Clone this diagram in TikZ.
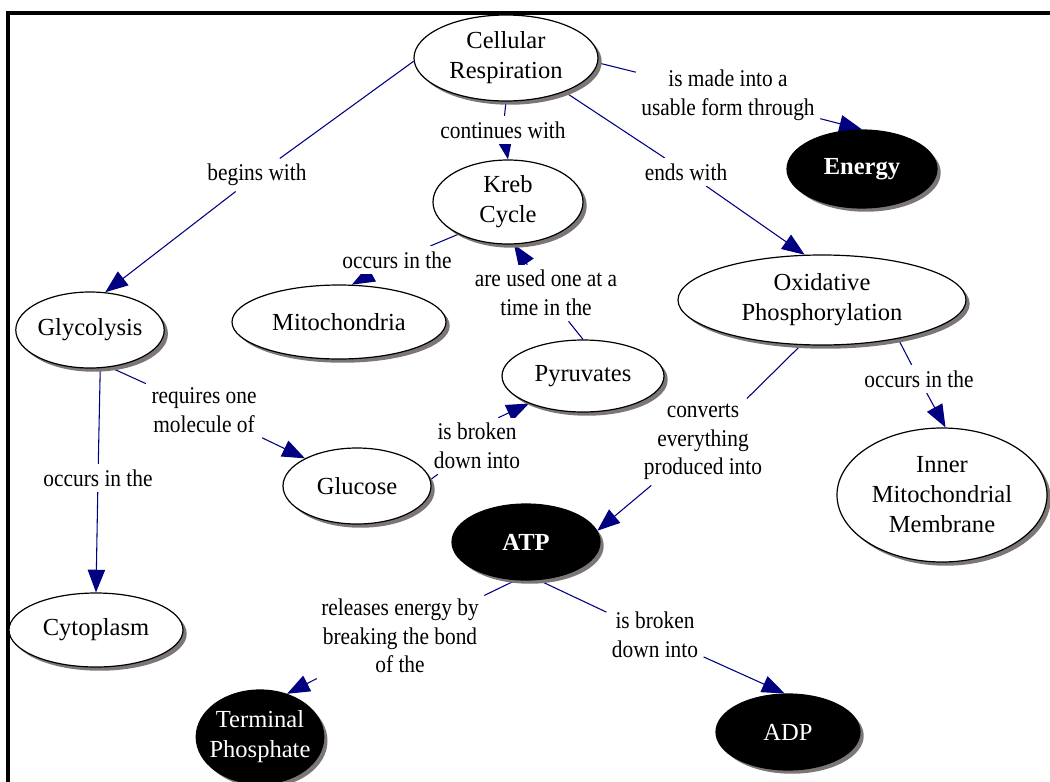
\documentclass[tikz,border=0pt]{standalone}
\usepackage{fontspec}
\setmainfont{Liberation Serif}
\newfontfamily\condfont[FakeStretch=0.89]{Liberation Serif}
\usetikzlibrary{shapes.geometric,shadows,backgrounds,arrows.meta}

\definecolor{linknavy}{RGB}{0,0,128}
\definecolor{shadowgray}{RGB}{125,118,118}

\tikzset{
  concept/.style={ellipse, draw=black, line width=0.9pt, fill=white,
    inner sep=0pt, align=center, font=\fontsize{18.4}{22.5}\selectfont,
    drop shadow={shadow xshift=2.8pt, shadow yshift=-2.8pt,
      fill=shadowgray, opacity=1}},
  keyconcept/.style={concept, fill=black, text=white},
  phrase/.style={fill=white, inner sep=4pt, align=center,
    font=\condfont\fontsize{18}{21.4}\selectfont},
  link/.style={draw=linknavy, line width=0.8pt},
  linkto/.style={link, -{Triangle[length=17pt,width=13pt]}},
}

\begin{document}
\begin{tikzpicture}[x=0.75pt, y=-0.75pt]
\useasboundingbox (0,0) rectangle (1050,782);

% page frame
\draw[line width=2.6pt, line join=miter] (8,790) -- (8,13) -- (1060,13);

% linking phrases (set first so concept shadows lie over them)
\node[phrase] (pBegins) at (257,175) {begins with};
\node[phrase] (pContinues) at (503,130) {continues with};
\node[phrase] (pEnds) at (686,172) {ends with};
\node[phrase] (pUsable) at (728,95) {is made into a\\usable form through};
\node[phrase] (pKrebIn) at (397,260) {occurs in the};
\node[phrase] (pUsed) at (546,293) {are used one at a\\time in the};
\node[phrase] (pRequires) at (204,410) {requires one\\molecule of};
\node[phrase] (pGlyIn) at (98,478) {occurs in the};
\node[phrase] (pGlcBroken) at (477,446) {is broken\\down into};
\node[phrase] (pConverts) at (703,442) {converts\\everything\\produced into};
\node[phrase] (pOxIn) at (919,379) {occurs in the};
\node[phrase] (pReleases) at (400,636) {releases energy by\\breaking the bond\\of the};
\node[phrase] (pAtpBroken) at (655,635) {is broken\\down into};

% concepts
\node[concept, minimum width=138pt, minimum height=64.5pt] (resp) at (506,58) {Cellular\\Respiration};
\node[keyconcept, minimum width=112.5pt, minimum height=58.5pt,
      font=\bfseries\fontsize{18.4}{22.5}\selectfont] (energy) at (862,169) {Energy};
\node[concept, minimum width=112.5pt, minimum height=63pt] (kreb) at (508,202) {Kreb\\Cycle};
\node[concept, minimum width=109.5pt, minimum height=57pt] (gly) at (90,330) {Glycolysis};
\node[concept, minimum width=160.5pt, minimum height=55.5pt] (mito) at (339,322) {Mitochondria};
\node[concept, minimum width=216pt, minimum height=67.5pt] (oxphos) at (822,300) {Oxidative\\Phosphorylation};
\node[concept, minimum width=121.5pt, minimum height=54pt] (pyr) at (583,376) {Pyruvates};
\node[concept, minimum width=111pt, minimum height=57pt] (glc) at (357,486) {Glucose};
\node[keyconcept, minimum width=111pt, minimum height=57pt,
      font=\bfseries\fontsize{18.4}{22.5}\selectfont] (atp) at (526,542) {ATP};
\node[concept, minimum width=157.5pt, minimum height=100.5pt] (inner) at (942,495) {Inner\\Mitochondrial\\Membrane};
\node[concept, minimum width=130.5pt, minimum height=55.5pt] (cyto) at (96,630) {Cytoplasm};
\node[keyconcept, minimum width=94.5pt, minimum height=70.5pt, inner xsep=-4pt] (term) at (260,737) {Terminal\\Phosphate};
\node[keyconcept, minimum width=108pt, minimum height=57pt] (adp) at (788,732) {ADP};

% links
\begin{scope}[on background layer]
  \draw[link] (resp.182) -- (pBegins);
  \draw[linkto] (pBegins) -- (gly.68);

  \draw[link] (resp.south) -- (pContinues);
  \draw[linkto] (pContinues) -- (kreb.north);

  \draw[link] (resp.-30) -- (pEnds);
  \draw[linkto] (pEnds) -- (oxphos.111);

  \draw[link] (resp.-3) -- (pUsable);
  \draw[linkto] (pUsable) -- (energy.north);

  \draw[link] (kreb.213) -- (pKrebIn);
  \draw[linkto] (pKrebIn) -- (mito.71);

  \draw[link] (pyr.north) -- (pUsed);
  \draw[linkto] (pUsed) -- (kreb.-82);

  \draw[link] (gly.-62) -- (pRequires);
  \draw[linkto] (pRequires) -- (glc.152);

  \draw[link] (gly.-75) -- (pGlyIn);
  \draw[linkto] (pGlyIn) -- (cyto.north);

  \draw[link] (glc.5) -- (pGlcBroken);
  \draw[linkto] ([xshift=16pt]pGlcBroken.north) -- (pyr.207);

  \draw[link] (oxphos.245) -- (pConverts);
  \draw[linkto] (pConverts) -- (atp.9);

  \draw[link] (oxphos.-27) -- (pOxIn);
  \draw[linkto] (pOxIn) -- (inner.87);

  \draw[link] (atp.255) -- (pReleases);
  \draw[linkto] (pReleases) -- (term.58);

  \draw[link] (atp.-72) -- (pAtpBroken);
  \draw[linkto] (pAtpBroken) -- (adp.95);
\end{scope}
\end{tikzpicture}
\end{document}
